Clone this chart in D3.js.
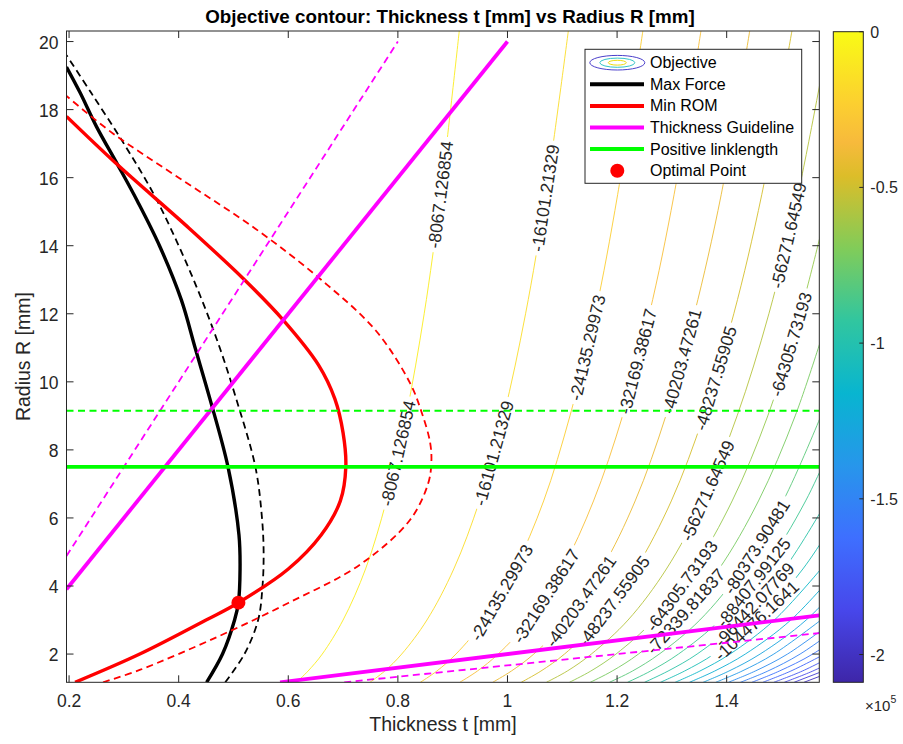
<!DOCTYPE html>
<meta charset="utf-8">
<style>
  body { margin: 0; background: #fff; }
  text { font-family: "Liberation Sans", Arial, Helvetica, sans-serif; fill: #262626; }
</style>
<body>
<div id="chart"></div>
<script src="https://d3js.org/d3.v7.min.js"></script>
<script>

// Axis ranges and ticks
var tRange = [0.1953, 1.569],
    rRange = [1.17, 20.31],
    zMin = -208919.3, zMax = -33.04;

var xTicks = [0.2, 0.4, 0.6, 0.8, 1, 1.2, 1.4];
var yTicks = [2, 4, 6, 8, 10, 12, 14, 16, 18, 20];
var cTicks = [0, -0.5, -1, -1.5, -2];   // colorbar, x 10^5

// Objective contour levels
var levels = [-8067.126854, -16101.21329, -24135.29973, -32169.38617, -40203.47261,
  -48237.55905, -56271.64549, -64305.73193, -72339.81837, -80373.90481, -88407.99125,
  -96442.07769, -104476.1641, -112510.2506, -120544.3370, -128578.4234, -136612.5099,
  -144646.5963, -152680.6827, -160714.7692, -168748.8556, -176782.9420, -184817.0285,
  -192851.1149, -200885.2014];

// Each contour: thickness t read at these radii
var contR = [1.17, 1.5, 2, 3, 4.5, 6.5, 9, 12, 15.5, 20.31];
var contT = [
  [0.615, 0.636, 0.662, 0.700, 0.741, 0.779, 0.815, 0.848, 0.878, 0.912],
  [0.749, 0.776, 0.807, 0.853, 0.902, 0.949, 0.993, 1.033, 1.070, 1.111],
  [0.841, 0.871, 0.906, 0.958, 1.013, 1.066, 1.114, 1.160, 1.201, 1.247],
  [0.913, 0.945, 0.983, 1.040, 1.100, 1.157, 1.210, 1.259, 1.304, 1.353],
  [0.973, 1.007, 1.048, 1.108, 1.172, 1.233, 1.289, 1.341, 1.390, 1.442],
  [1.025, 1.061, 1.104, 1.167, 1.234, 1.299, 1.358, 1.413, 1.464, 1.519],
  [1.071, 1.109, 1.153, 1.220, 1.290, 1.357, 1.419, 1.477, 1.530, 1.588],
  [1.113, 1.152, 1.198, 1.267, 1.340, 1.410, 1.475, 1.534, 1.589],
  [1.151, 1.191, 1.239, 1.311, 1.386, 1.458, 1.525, 1.587],
  [1.186, 1.228, 1.277, 1.351, 1.428, 1.503, 1.572],
  [1.219, 1.261, 1.312, 1.388, 1.468, 1.544, 1.615],
  [1.250, 1.293, 1.346, 1.423, 1.505, 1.583],
  [1.279, 1.323, 1.377, 1.456, 1.539, 1.620],
  [1.306, 1.351, 1.406, 1.487, 1.572],
  [1.332, 1.378, 1.434, 1.517, 1.604],
  [1.357, 1.404, 1.461, 1.545, 1.634],
  [1.380, 1.428, 1.486, 1.572],
  [1.403, 1.452, 1.511, 1.598],
  [1.425, 1.475, 1.534, 1.622],
  [1.446, 1.496, 1.557, 1.646],
  [1.466, 1.517, 1.579],
  [1.486, 1.538, 1.600],
  [1.505, 1.557, 1.620],
  [1.523, 1.576],
  [1.541, 1.595]];

// Contour labels: level index, radius of the label centre, text
var labelLevel = [0, 1, 2, 3, 4, 5, 6, 7,   0, 1, 2, 3, 4, 5, 6, 7, 8, 9, 10, 11, 12];
var labelR     = [15.5, 15.4, 11.0, 10.6, 10.6, 10.1, 14.3, 11.1,
                  7.9, 7.9, 3.8, 3.7, 3.55, 3.55, 6.8, 4.0, 3.25, 5.15, 4.1, 3.45, 2.98];
var labelText  = ["-8067.126854", "-16101.21329", "-24135.29973", "-32169.38617", "-40203.47261",
  "-48237.55905", "-56271.64549", "-64305.73193", "-72339.81837", "-80373.90481",
  "-88407.99125", "-96442.07769", "-104476.1641"];

// Max Force constraint
var forceR     = [1.17, 2, 3, 3.51, 4.5, 5.5, 7.5, 9.5, 11, 12.4, 14, 15.3, 16.37, 17.5, 18.5, 19.25];
var forceT     = [0.451, 0.480, 0.502, 0.509, 0.512, 0.510, 0.490, 0.457, 0.430, 0.405, 0.365, 0.325, 0.289, 0.250, 0.220, 0.1953];
var forceDashR = [1.17, 2, 3, 4, 5, 6, 7.5, 9.5, 11, 12.5, 14, 15.5, 17, 18.5, 19.6];
var forceDashT = [0.485, 0.520, 0.545, 0.553, 0.555, 0.552, 0.540, 0.505, 0.475, 0.440, 0.400, 0.355, 0.300, 0.240, 0.1953];

// Min ROM constraint
var romR     = [1.17, 2, 3, 3.51, 4.5, 5.5, 6.5, 7.5, 8.5, 9.5, 10.5, 11.83, 13, 14.5, 16.37, 17.8];
var romT     = [0.211, 0.329, 0.450, 0.509, 0.600, 0.660, 0.695, 0.705, 0.700, 0.685, 0.655, 0.590, 0.520, 0.420, 0.289, 0.1953];
var romDashR = [1.17, 1.54, 2.5, 3.5, 4.63, 5.94, 7.0, 7.6, 8.2, 9.12, 9.97, 11.5, 13, 14.5, 16, 17.3, 18.4];
var romDashT = [0.262, 0.330, 0.470, 0.600, 0.731, 0.822, 0.855, 0.861, 0.859, 0.843, 0.822, 0.760, 0.660, 0.540, 0.400, 0.280, 0.1953];

// Thickness guideline (straight lines, end points)
var guideT     = [[0.1953, 1.0], [0.585, 1.569]];
var guideR     = [[3.906, 20.0], [1.17, 3.138]];
var guideDashT = [[0.1953, 0.8], [0.702, 1.569]];
var guideDashR = [[4.883, 20.0], [1.17, 2.615]];

// Positive linklength
var linkR = 7.5, linkDashR = 9.15;

// Optimal point
var optT = 0.509, optR = 3.51;

var legendNames = ["Objective", "Max Force", "Min ROM", "Thickness Guideline", "Positive linklength", "Optimal Point"];

// parula
var cmapPos = [0, 0.111, 0.222, 0.333, 0.444, 0.556, 0.667, 0.778, 0.83, 0.889, 1];
var cmapColors = ["#3e26a8", "#4747eb", "#3e6fff", "#2796eb", "#08b5d0", "#31c69f",
                  "#81cc59", "#dcbd29", "#f7ba3c", "#fccf30", "#f9fb15"];

// ---------------------------------------------------------------

var W = 903, H = 744;
var plot = {left: 66.5, right: 819.3, top: 31, bottom: 682.3};
var cbar = {left: 833.3, right: 863.3, top: 31.7, bottom: 682.3};
var axisColor = "#262626";

var x = d3.scaleLinear().domain(tRange).range([plot.left, plot.right]);
var y = d3.scaleLinear().domain(rRange).range([plot.bottom, plot.top]);
var zNorm = d3.scaleLinear().domain([zMin, zMax]).range([0, 1]);
var cmap = d3.scaleLinear().domain(cmapPos).range(cmapColors).interpolate(d3.interpolateRgb);
var cY = d3.scaleLinear().domain([zMin / 1e5, 0]).range([cbar.bottom, cbar.top]);

var svg = d3.select("#chart").append("svg")
    .attr("width", W)
    .attr("height", H);
var defs = svg.append("defs");

defs.append("clipPath")
    .attr("id", "clip-axes")
  .append("rect")
    .attr("x", plot.left).attr("y", plot.top)
    .attr("width", plot.right - plot.left)
    .attr("height", plot.bottom - plot.top);

var line = d3.line()
    .x(function(d) { return x(d[0]); })
    .y(function(d) { return y(d[1]); })
    .curve(d3.curveCatmullRom.alpha(0.5));

function pairs(ts, rs) { return ts.map(function(t, i) { return [t, rs[i]]; }); }

// Contours ----------------
var contourG = svg.append("g").attr("clip-path", "url(#clip-axes)");
var labelG = svg.append("g");

var contourPaths = levels.map(function(v, i) {
  return contourG.append("path")
      .attr("d", line(pairs(contT[i], contR)))
      .attr("fill", "none")
      .attr("stroke", cmap(zNorm(v)))
      .attr("stroke-width", 0.9);
});

var masks = {};
labelLevel.forEach(function(k, i) {
  var node = contourPaths[k].node();
  var L = node.getTotalLength(), target = y(labelR[i]);
  var lo = 0, hi = L;
  for (var n = 0; n < 40; n++) {
    var mid = (lo + hi) / 2;
    if (node.getPointAtLength(mid).y > target) lo = mid; else hi = mid;
  }
  var s = (lo + hi) / 2;
  var p = node.getPointAtLength(s),
      a = node.getPointAtLength(Math.max(0, s - 4)),
      b = node.getPointAtLength(Math.min(L, s + 4));
  var ang = Math.atan2(b.y - a.y, b.x - a.x) * 180 / Math.PI;
  var tr = "translate(" + p.x + "," + p.y + ") rotate(" + ang + ")";

  var txt = labelG.append("text")
      .attr("transform", tr)
      .attr("text-anchor", "middle")
      .attr("dominant-baseline", "central")
      .style("font-size", "17.5px")
      .text(labelText[k]);
  var w = txt.node().getComputedTextLength();

  if (!masks[k]) {
    masks[k] = defs.append("mask")
        .attr("id", "gap" + k)
        .attr("maskUnits", "userSpaceOnUse")
        .attr("x", 0).attr("y", 0).attr("width", W).attr("height", H);
    masks[k].append("rect").attr("width", W).attr("height", H).attr("fill", "white");
    contourPaths[k].attr("mask", "url(#gap" + k + ")");
  }
  masks[k].append("rect")
      .attr("x", -w / 2 - 4).attr("y", -8)
      .attr("width", w + 8).attr("height", 16)
      .attr("fill", "black")
      .attr("transform", tr);
});

// Constraint lines ----------------
var linesG = svg.append("g").attr("clip-path", "url(#clip-axes)");
var dash = "7,4.5";

function drawLine(pts, color, width, dashed) {
  linesG.append("path")
      .attr("d", line(pts))
      .attr("fill", "none")
      .attr("stroke", color)
      .attr("stroke-width", width)
      .attr("stroke-dasharray", dashed ? dash : null);
}

drawLine(pairs(forceT, forceR), "#000", 3.4, false);
drawLine(pairs(forceDashT, forceDashR), "#000", 1.8, true);
drawLine(pairs(romT, romR), "#ff0000", 3.4, false);
drawLine(pairs(romDashT, romDashR), "#ff0000", 1.8, true);
guideT.forEach(function(ts, i) { drawLine(pairs(ts, guideR[i]), "#ff00ff", 3.8, false); });
guideDashT.forEach(function(ts, i) { drawLine(pairs(ts, guideDashR[i]), "#ff00ff", 1.8, true); });
drawLine([[tRange[0], linkR], [tRange[1], linkR]], "#00ff00", 3.8, false);
drawLine([[tRange[0], linkDashR], [tRange[1], linkDashR]], "#00ff00", 1.8, true);

svg.append("circle")
    .attr("cx", x(optT)).attr("cy", y(optR)).attr("r", 7)
    .attr("fill", "#ff0000");

// Axes ----------------
var axG = svg.append("g").attr("stroke", axisColor).attr("stroke-width", 1).attr("fill", "none");
axG.append("rect")
    .attr("x", plot.left).attr("y", plot.top)
    .attr("width", plot.right - plot.left).attr("height", plot.bottom - plot.top);

xTicks.forEach(function(t) {
  var px = x(t);
  axG.append("line").attr("x1", px).attr("x2", px).attr("y1", plot.bottom).attr("y2", plot.bottom - 7);
  axG.append("line").attr("x1", px).attr("x2", px).attr("y1", plot.top).attr("y2", plot.top + 7);
  svg.append("text")
      .attr("x", px).attr("y", plot.bottom + 25)
      .attr("text-anchor", "middle")
      .style("font-size", "17.5px")
      .text(t);
});
yTicks.forEach(function(r) {
  var py = y(r);
  axG.append("line").attr("x1", plot.left).attr("x2", plot.left + 7).attr("y1", py).attr("y2", py);
  axG.append("line").attr("x1", plot.right).attr("x2", plot.right - 7).attr("y1", py).attr("y2", py);
  svg.append("text")
      .attr("x", plot.left - 8).attr("y", py + 7)
      .attr("text-anchor", "end")
      .style("font-size", "17.5px")
      .text(r);
});

svg.append("text")
    .attr("x", 450).attr("y", 23)
    .attr("text-anchor", "middle")
    .style("font-size", "18.8px").style("font-weight", "bold")
    .style("fill", "#000")
    .text("Objective contour: Thickness t [mm] vs Radius R [mm]");

svg.append("text")
    .attr("x", (plot.left + plot.right) / 2).attr("y", 731)
    .attr("text-anchor", "middle")
    .style("font-size", "19.5px")
    .text("Thickness t [mm]");

svg.append("text")
    .attr("transform", "translate(30," + (plot.top + plot.bottom) / 2 + ") rotate(-90)")
    .attr("text-anchor", "middle")
    .style("font-size", "19.5px")
    .text("Radius R [mm]");

// Colorbar ----------------
var grad = defs.append("linearGradient")
    .attr("id", "parula")
    .attr("x1", 0).attr("y1", 1).attr("x2", 0).attr("y2", 0);
grad.selectAll("stop")
    .data(cmapPos)
    .enter().append("stop")
    .attr("offset", function(d) { return d; })
    .attr("stop-color", function(d, i) { return cmapColors[i]; });

svg.append("rect")
    .attr("x", cbar.left).attr("y", cbar.top)
    .attr("width", cbar.right - cbar.left).attr("height", cbar.bottom - cbar.top)
    .attr("fill", "url(#parula)")
    .attr("stroke", axisColor).attr("stroke-width", 1);

cTicks.forEach(function(c) {
  var py = cY(c);
  svg.append("line")
      .attr("x1", cbar.right).attr("x2", cbar.right - 4)
      .attr("y1", py).attr("y2", py)
      .attr("stroke", axisColor);
  svg.append("text")
      .attr("x", cbar.right + 7).attr("y", py + 6)
      .style("font-size", "16px")
      .text(c);
});
var expo = svg.append("text")
    .attr("x", 865).attr("y", 711)
    .style("font-size", "15px");
expo.append("tspan").text("\u00d710");
expo.append("tspan").attr("dy", -8).style("font-size", "10.5px").text("5");

// Legend ----------------
var lg = {left: 585, top: 49.3, width: 216.7, height: 134, row0: 62.7, step: 21.6};
var legend = svg.append("g");
legend.append("rect")
    .attr("x", lg.left).attr("y", lg.top)
    .attr("width", lg.width).attr("height", lg.height)
    .attr("fill", "#fff")
    .attr("stroke", axisColor).attr("stroke-width", 1);

var legendColors = [null, "#000", "#ff0000", "#ff00ff", "#00ff00", null];
legendNames.forEach(function(name, i) {
  var cy = lg.row0 + i * lg.step;
  if (i === 0) {
    [[27.5, 7.3, "#4b3fcb"], [17.5, 4.6, "#34c4c8"], [9, 2.4, "#eedd10"]].forEach(function(e) {
      legend.append("ellipse")
          .attr("cx", 617.3).attr("cy", cy).attr("rx", e[0]).attr("ry", e[1])
          .attr("fill", "none").attr("stroke", e[2]).attr("stroke-width", 1);
    });
  } else if (i === 5) {
    legend.append("circle").attr("cx", 617.3).attr("cy", cy).attr("r", 7).attr("fill", "#ff0000");
  } else {
    legend.append("line")
        .attr("x1", 590).attr("x2", 644).attr("y1", cy).attr("y2", cy)
        .attr("stroke", legendColors[i]).attr("stroke-width", 4);
  }
  legend.append("text")
      .attr("x", 650).attr("y", cy + 5.5)
      .style("font-size", "16px")
      .style("fill", "#000")
      .text(name);
});

</script>
</body>
